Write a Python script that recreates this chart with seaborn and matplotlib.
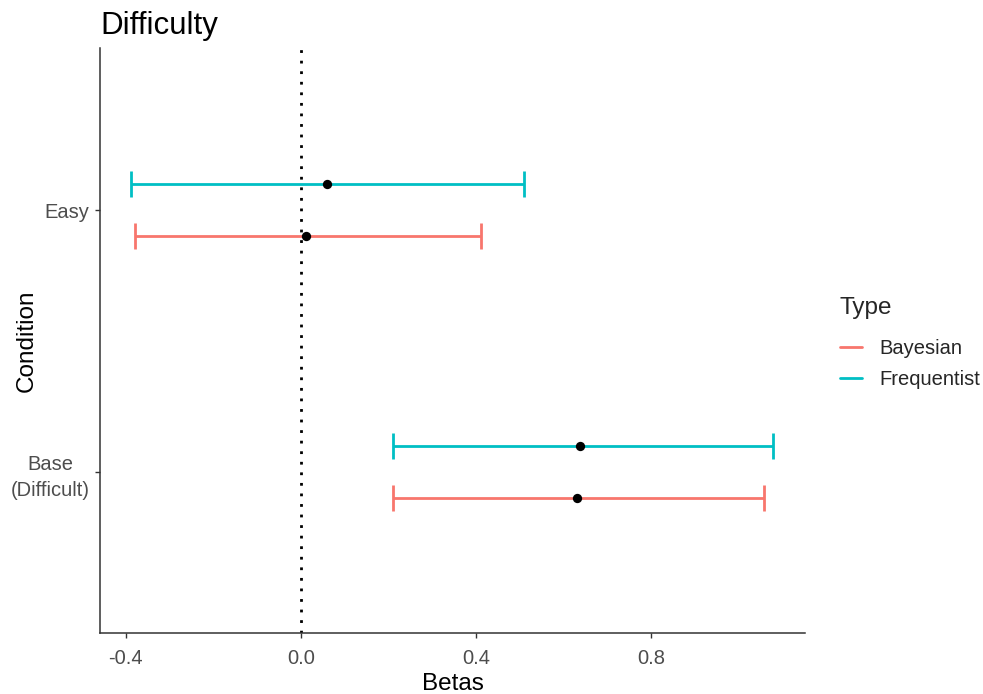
import numpy as np
import pandas as pd
import matplotlib
matplotlib.use("Agg")
import matplotlib.pyplot as plt
import seaborn as sns
from matplotlib.lines import Line2D

conditions = ["Base\n(Difficult)", "Easy"]
types = ["Bayesian", "Frequentist"]
estimate = [0.631, 0.011, 0.638, 0.059]
lower = [0.210, -0.379, 0.210, -0.389]
upper = [1.058, 0.411, 1.079, 0.510]
cond_col = ["Base\n(Difficult)", "Easy", "Base\n(Difficult)", "Easy"]
type_col = ["Bayesian", "Bayesian", "Frequentist", "Frequentist"]
palette = {"Bayesian": "#F8766D", "Frequentist": "#00BFC4"}

df = pd.DataFrame({"Condition": cond_col, "Type": type_col,
                   "Betas": estimate, "lo": lower, "hi": upper})
dodge = {"Bayesian": -0.1, "Frequentist": 0.1}
df["ypos"] = df["Condition"].map({c: i for i, c in enumerate(conditions)}) + df["Type"].map(dodge)

sns.set_theme(style="ticks")
plt.rcParams["font.family"] = ["Liberation Sans", "DejaVu Sans"]

fig = plt.figure(figsize=(9.83, 6.94), dpi=100)
ax = fig.add_axes([0.1017, 0.0879, 0.7173, 0.8431])

ax.axvline(0, color="black", lw=2, linestyle=(0, (1, 2.8)), zorder=1)

for t in types:
    sub = df[df["Type"] == t]
    ax.errorbar(sub["Betas"], sub["ypos"],
                xerr=[sub["Betas"] - sub["lo"], sub["hi"] - sub["Betas"]],
                fmt="none", ecolor=palette[t], elinewidth=2,
                capsize=9.5, capthick=2, zorder=2)

sns.scatterplot(data=df, x="Betas", y="ypos", color="black", s=45,
                edgecolor="black", linewidth=0, ax=ax, zorder=3, legend=False)

ax.set_xlim(-0.459, 1.152)
ax.set_ylim(-0.615, 1.62)
ax.set_xticks([-0.4, 0.0, 0.4, 0.8])
ax.set_xticklabels(["-0.4", "0.0", "0.4", "0.8"])
ax.set_yticks([0, 1])
ax.set_yticklabels(conditions, multialignment="center", linespacing=1.45)

ax.tick_params(axis="both", labelsize=14.5, labelcolor="#4D4D4D",
               color="#333333", length=3.5, width=1)
ax.tick_params(axis="x", pad=8)
ax.tick_params(axis="y", pad=4)
for side in ["top", "right"]:
    ax.spines[side].set_visible(False)
for side in ["left", "bottom"]:
    ax.spines[side].set_color("#333333")
    ax.spines[side].set_linewidth(1.1)

ax.set_xlabel("Betas", fontsize=17.5, color="black")
ax.set_ylabel("Condition", fontsize=17.5, color="black")
ax.xaxis.set_label_coords(0.5, -0.068)
ax.yaxis.set_label_coords(-0.088, 0.5)
ax.set_title("Difficulty", fontsize=22.5, loc="left", color="black", pad=10, x=0)

handles = [Line2D([0], [0], color=palette[t], lw=2) for t in types]
leg = fig.legend(handles, types, title="Type", loc="upper left",
                 bbox_to_anchor=(0.836, 0.598), frameon=False,
                 fontsize=14.5, title_fontsize=17.5, handlelength=1.1,
                 handletextpad=0.85, labelspacing=0.6)
leg._legend_box.align = "left"
leg._legend_box.sep = 14

fig.savefig("out.png", dpi=100)
